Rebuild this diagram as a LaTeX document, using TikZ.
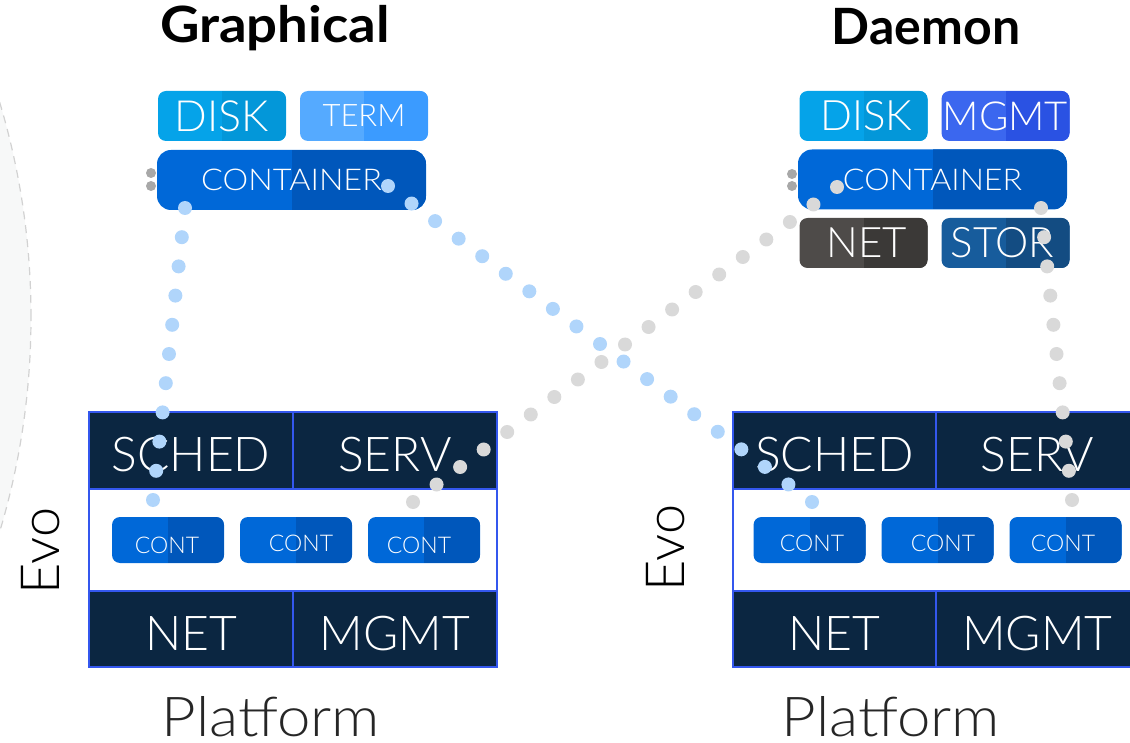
\documentclass[tikz,border=0pt]{standalone}
\usepackage{fontspec}
\setmainfont{Lato}[UprightFont={* Light},BoldFont={* Bold}]
\usetikzlibrary{calc}
\definecolor{diskL}{HTML}{05A3E9}\definecolor{diskR}{HTML}{0397D9}
\definecolor{termL}{HTML}{55AAFF}\definecolor{termR}{HTML}{3B9BFF}
\definecolor{contL}{HTML}{0068D8}\definecolor{contR}{HTML}{0057BB}
\definecolor{mgmtL}{HTML}{3B67EF}\definecolor{mgmtR}{HTML}{2A52E3}
\definecolor{netL}{HTML}{4E4B49}\definecolor{netR}{HTML}{3B3937}
\definecolor{storL}{HTML}{175C9C}\definecolor{storR}{HTML}{134C82}
\definecolor{navy}{HTML}{0B2641}\definecolor{pborder}{HTML}{3457EE}
\definecolor{bluedot}{HTML}{B0D5FB}\definecolor{graydot}{HTML}{D9D9D9}
\definecolor{stubdot}{HTML}{A8A8A8}
\definecolor{circfill}{HTML}{F7F8F8}\definecolor{circline}{HTML}{D2D2D2}
\newcommand{\fs}[1]{\fontsize{#1}{#1}\selectfont}
\newcommand{\wide}[2]{\scalebox{#1}[1]{#2}}
\tikzset{
  twotone/.style 2 args={fill=#1, rounded corners=8pt, inner sep=0pt, text=white,
    path picture={\fill[#2, sharp corners] (path picture bounding box.north) rectangle (path picture bounding box.south east);}},
  smallbox/.style={minimum width=128pt, minimum height=50pt},
  bigbox/.style={minimum width=269pt, minimum height=60pt, rounded corners=14pt, font=\fs{30}},
  contbox/.style={twotone={contL}{contR}, minimum width=112pt, minimum height=46pt},
  conttxt/.style={text=white, font=\fs{23}, inner sep=0pt},
  plat/.style={fill=navy, draw=pborder, line width=2.5pt, text=white, inner sep=0pt, font=\fs{48},
    text height=42pt, text depth=0pt},
  platmid/.style={fill=white, draw=pborder, line width=2.5pt, inner sep=0pt},
  bottomlbl/.style={anchor=base, font=\fs{55}, inner sep=0pt, text depth=0pt, text=black!85},
  bdot/.style={fill=bluedot},
  gdot/.style={fill=graydot},
  stub/.style={fill=stubdot},
}
\begin{document}
\begin{tikzpicture}[x=1pt,y=-1pt]
\useasboundingbox (0,0) rectangle (1130,743);
\clip (0,0) rectangle (1130,743);
% background circle
\fill[circfill] (-716,317) circle[radius=747pt];
\draw[circline, line width=1.2pt, dash pattern=on 8pt off 6pt] (-716,317) circle[radius=747pt];

% titles
\node[font=\bfseries\fs{50}] (tgraph) at (275,28) {\wide{1.09}{Graphical}};
\node[font=\bfseries\fs{50}] (tdaemon) at (926,27) {Daemon};

% stub dots (behind boxes)
\foreach \x/\y in {151/173,151/186,792/174,792/186}
  \fill[stub] (\x,\y) circle[radius=5pt];
\foreach \x in {112,240,368,753,881,1009}{
  \fill[stubdot!80] (\x,533) circle[radius=4.5pt];
  \fill[stubdot!80] (\x,546) circle[radius=4.5pt];
}

% Graphical stack
\node[twotone={diskL}{diskR}, smallbox, font=\fs{43}] (gdisk) at (222,116) {DISK};
\node[twotone={termL}{termR}, smallbox, font=\fs{31}] (gterm) at (364,116) {TERM};
\node[twotone={contL}{contR}, bigbox] (gcont) at (291.5,180) {\wide{1.08}{CONTAINER}};

% Daemon stack
\node[twotone={diskL}{diskR}, smallbox, font=\fs{42}] (ddisk) at (863.5,116) {\hspace*{6pt}DISK};
\node[twotone={mgmtL}{mgmtR}, smallbox, font=\fs{40}] (dmgmt) at (1005.5,116) {MGMT};
\node[twotone={contL}{contR}, bigbox] (dcont) at (932.5,179.5) {\wide{1.07}{CONTAINER}};
\node[twotone={netL}{netR}, smallbox, font=\fs{42}] (dnet) at (863.5,243) {\hspace*{6pt}NET};
\node[twotone={storL}{storR}, smallbox, font=\fs{42}] (dstor) at (1005.5,243) {STOR\hspace*{6pt}};

% Left platform
\node[platmid, minimum width=408pt, minimum height=102pt] (lmid) at (293,540) {};
\node[plat, minimum width=204pt, minimum height=77pt] (lsched) at (191,450.5) {SCHED};
\node[plat, minimum width=204pt, minimum height=77pt] (lserv) at (395,450.5) {SERV};
\node[plat, minimum width=204pt, minimum height=76pt] (lnet) at (191,629) {NET};
\node[plat, minimum width=204pt, minimum height=76pt] (lmgmt) at (395,629) {MGMT};
\node[contbox] (lc1) at (168,540) {};
\node[contbox] (lc2) at (296,540) {};
\node[contbox] (lc3) at (424,540) {};
\node[conttxt] (lt1) at (167,545) {CONT};
\node[conttxt] (lt2) at (301,543) {CONT};
\node[conttxt] (lt3) at (419,545) {CONT};

% Right platform
\node[platmid, minimum width=406pt, minimum height=102pt] (rmid) at (936,540) {};
\node[plat, minimum width=203pt, minimum height=77pt] (rsched) at (834.5,450.5) {SCHED};
\node[plat, minimum width=203pt, minimum height=77pt] (rserv) at (1037.5,450.5) {SERV};
\node[plat, minimum width=203pt, minimum height=76pt] (rnet) at (834.5,629) {NET};
\node[plat, minimum width=203pt, minimum height=76pt] (rmgmt) at (1037.5,629) {MGMT};
\node[contbox] (rc1) at (809.5,540) {};
\node[contbox] (rc2) at (937.5,540) {};
\node[contbox] (rc3) at (1065.5,540) {};
\node[conttxt] (rt1) at (812,543) {CONT};
\node[conttxt] (rt2) at (943,543) {CONT};
\node[conttxt] (rt3) at (1063,543) {CONT};

% Evo and Platform labels
\node[rotate=90, font=\fs{54}, inner sep=0pt] (evol) at (41,551) {Evo};
\node[rotate=90, font=\fs{54}, inner sep=0pt] (evor) at (666,548) {Evo};
\node[bottomlbl] (platl) at (271,736) {\wide{1.09}{Platform}};
\node[bottomlbl] (platr) at (891,736) {\wide{1.09}{Platform}};

% dotted connectors
\coordinate (b1s) at (185,208); \coordinate (b1e) at (153,500);
\coordinate (b2s) at (388,186); \coordinate (b2e) at (812,502);
\coordinate (g1s) at (837,187); \coordinate (g1e) at (413,502);
\coordinate (g2s) at (1041,208); \coordinate (g2e) at (1072,500);
\foreach \i in {0,...,10} \fill[bdot] ($(b1s)!\i/10!(b1e)$) circle[radius=7pt];
\foreach \i in {0,...,18} \fill[bdot] ($(b2s)!\i/18!(b2e)$) circle[radius=7pt];
\foreach \i in {0,...,18} \fill[gdot] ($(g1s)!\i/18!(g1e)$) circle[radius=7pt];
\foreach \i in {0,...,10} \fill[gdot] ($(g2s)!\i/10!(g2e)$) circle[radius=7pt];
\end{tikzpicture}
\end{document}
